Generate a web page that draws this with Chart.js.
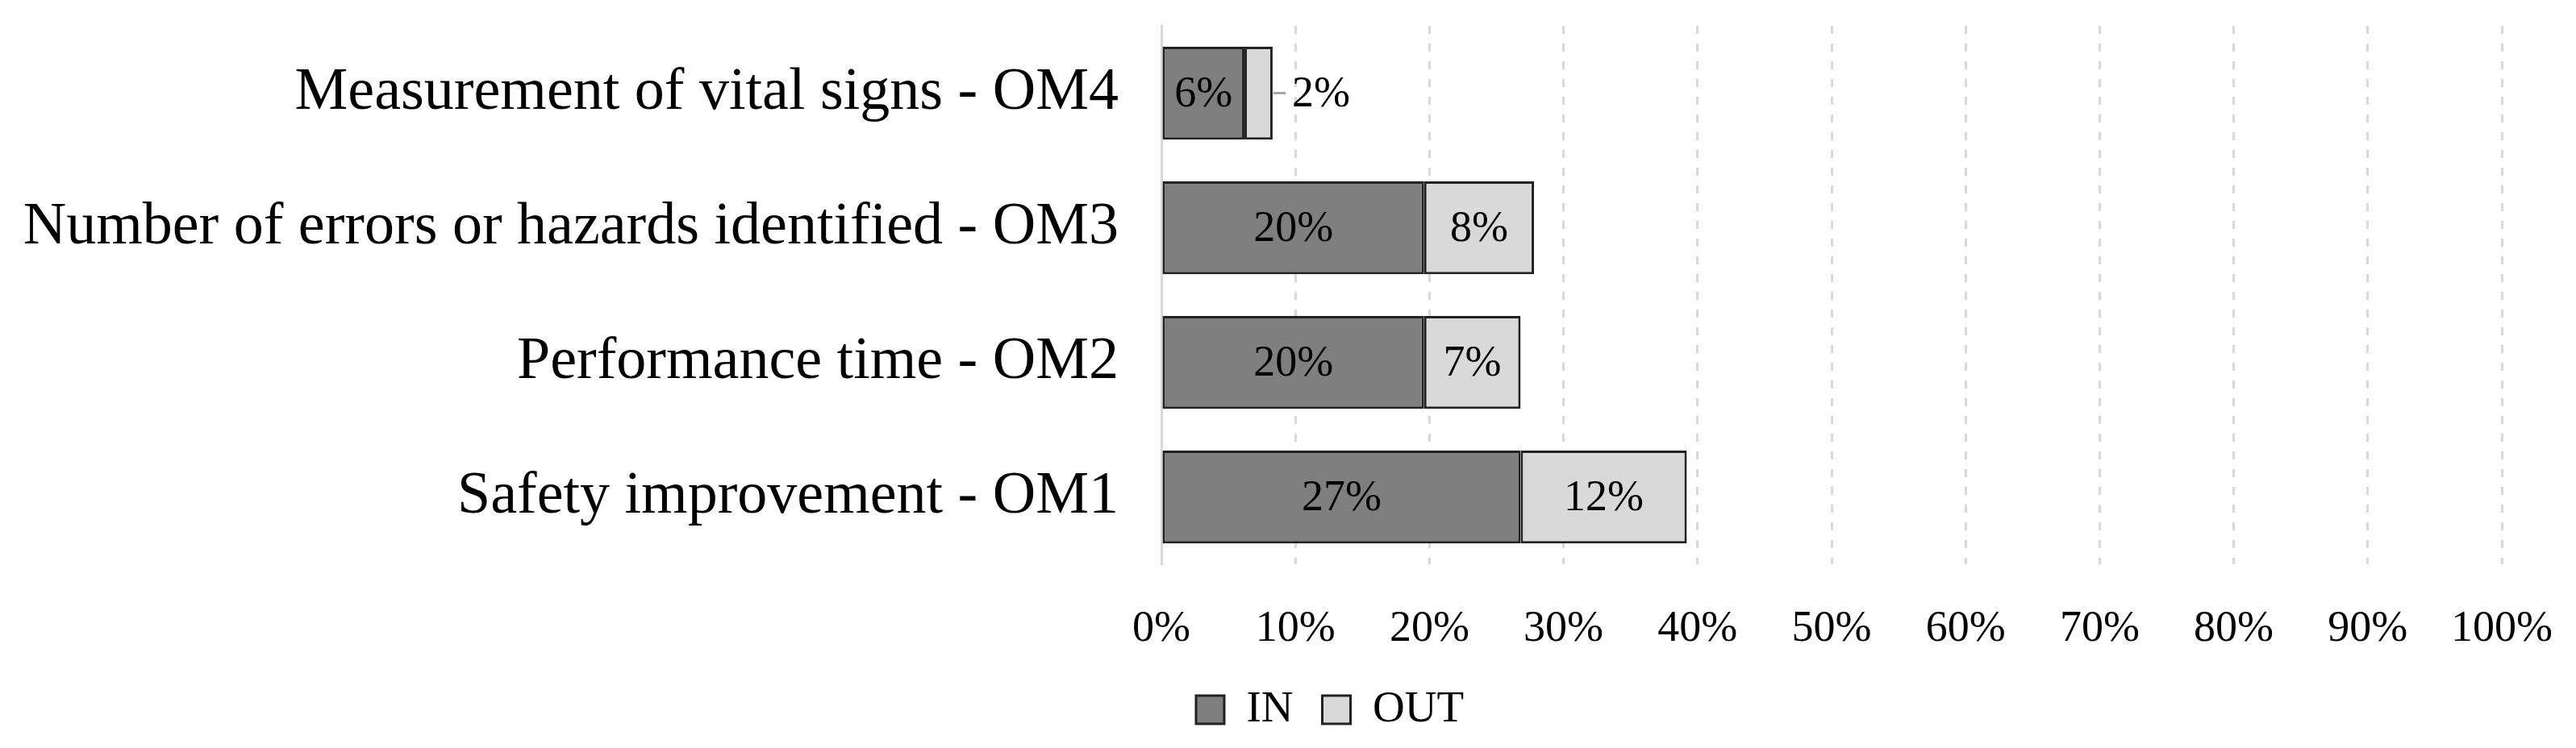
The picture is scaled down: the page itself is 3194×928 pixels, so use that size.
<!DOCTYPE html>
<html>
<head>
<meta charset="utf-8">
<script src="https://cdn.jsdelivr.net/npm/chart.js@4"></script>
<style>
  html, body { margin: 0; padding: 0; background: #fff; }
  #wrap { width: 3194px; height: 928px; }
</style>
</head>
<body>
<div id="wrap"><canvas id="chart" width="3194" height="928"></canvas></div>
<script>
// outcome measures, top to bottom
var categories = [
  "Measurement of vital signs - OM4",
  "Number of errors or hazards identified - OM3",
  "Performance time - OM2",
  "Safety improvement - OM1"
];
var inValues = [6.2, 19.6, 19.6, 26.8];
var outValues = [2.1, 8.2, 7.2, 12.4];
var xTicks = [0, 10, 20, 30, 40, 50, 60, 70, 80, 90, 100];

var FONT = "'Liberation Serif', 'Times New Roman', serif";

// value labels inside each segment, pushed outside with a leader line when too narrow
var barLabels = {
  id: "barLabels",
  afterDatasetsDraw: function (chart) {
    var ctx = chart.ctx;
    ctx.save();
    ctx.font = "54px " + FONT;
    ctx.fillStyle = "#000";
    ctx.textBaseline = "middle";
    chart.data.datasets.forEach(function (ds, di) {
      chart.getDatasetMeta(di).data.forEach(function (bar, i) {
        var txt = Math.round(ds.data[i]) + "%";
        var w = ctx.measureText(txt).width;
        var left = bar.base, right = bar.x;
        if (right - left > w + 10) {
          ctx.textAlign = "center";
          ctx.fillText(txt, (left + right) / 2, bar.y + 2);
        } else {
          ctx.strokeStyle = "#a6a6a6";
          ctx.lineWidth = 3;
          ctx.beginPath();
          ctx.moveTo(right + 1, bar.y);
          ctx.lineTo(right + 16, bar.y);
          ctx.stroke();
          ctx.textAlign = "left";
          ctx.fillText(txt, right + 24, bar.y + 2);
        }
      });
    });
    ctx.restore();
  }
};

// the legend sits a little right of the canvas centre in the original,
// and is kept short so the plot keeps its height
var legendShift = {
  id: "legendShift",
  afterLayout: function (chart) {
    chart.legend.left += 196;
    chart.legend.top -= 44;
  }
};

new Chart(document.getElementById("chart"), {
  type: "bar",
  data: {
    labels: categories,
    datasets: [
      { label: "IN", data: inValues, backgroundColor: "#7f7f7f", borderColor: "#222", borderWidth: 3, borderSkipped: false },
      { label: "OUT", data: outValues, backgroundColor: "#d9d9d9", borderColor: "#222", borderWidth: 3, borderSkipped: false }
    ]
  },
  options: {
    indexAxis: "y",
    responsive: false,
    animation: false,
    devicePixelRatio: 1,
    categoryPercentage: 0.69,
    barPercentage: 1,
    layout: { padding: { left: 0, right: 92, top: 32, bottom: 10 } },
    scales: {
      x: {
        stacked: true,
        min: 0,
        max: 100,
        afterBuildTicks: function (scale) {
          scale.ticks = xTicks.map(function (v) { return { value: v }; });
        },
        afterFit: function (scale) {
          scale.paddingLeft = 0;
          scale.paddingRight = 0;
        },
        grid: { color: "#d9d9d9", lineWidth: 3, drawTicks: false },
        border: { display: false, dash: [10, 12] },
        ticks: {
          padding: 48,
          color: "#000",
          font: { family: FONT, size: 54 },
          callback: function (v) { return v + "%"; }
        }
      },
      y: {
        stacked: true,
        afterFit: function (scale) {
          scale.width = 1440;
          scale.paddingTop = 0;
          scale.paddingBottom = 0;
        },
        grid: { display: false, drawTicks: false },
        border: { display: true, color: "#d9d9d9", width: 3 },
        ticks: {
          padding: 53,
          color: "#000",
          font: { family: FONT, size: 74 }
        }
      }
    },
    plugins: {
      tooltip: { enabled: false },
      legend: {
        position: "bottom",
        maxHeight: 57,
        labels: {
          color: "#000",
          font: { family: FONT, size: 55 },
          boxWidth: 35,
          boxHeight: 35,
          padding: 36,
          generateLabels: function (chart) {
            return chart.data.datasets.map(function (ds, i) {
              return {
                text: ds.label,
                fillStyle: ds.backgroundColor,
                strokeStyle: "#222",
                lineWidth: 3,
                datasetIndex: i,
                fontColor: "#000"
              };
            });
          }
        }
      }
    }
  },
  plugins: [barLabels, legendShift]
});
</script>
</body>
</html>
